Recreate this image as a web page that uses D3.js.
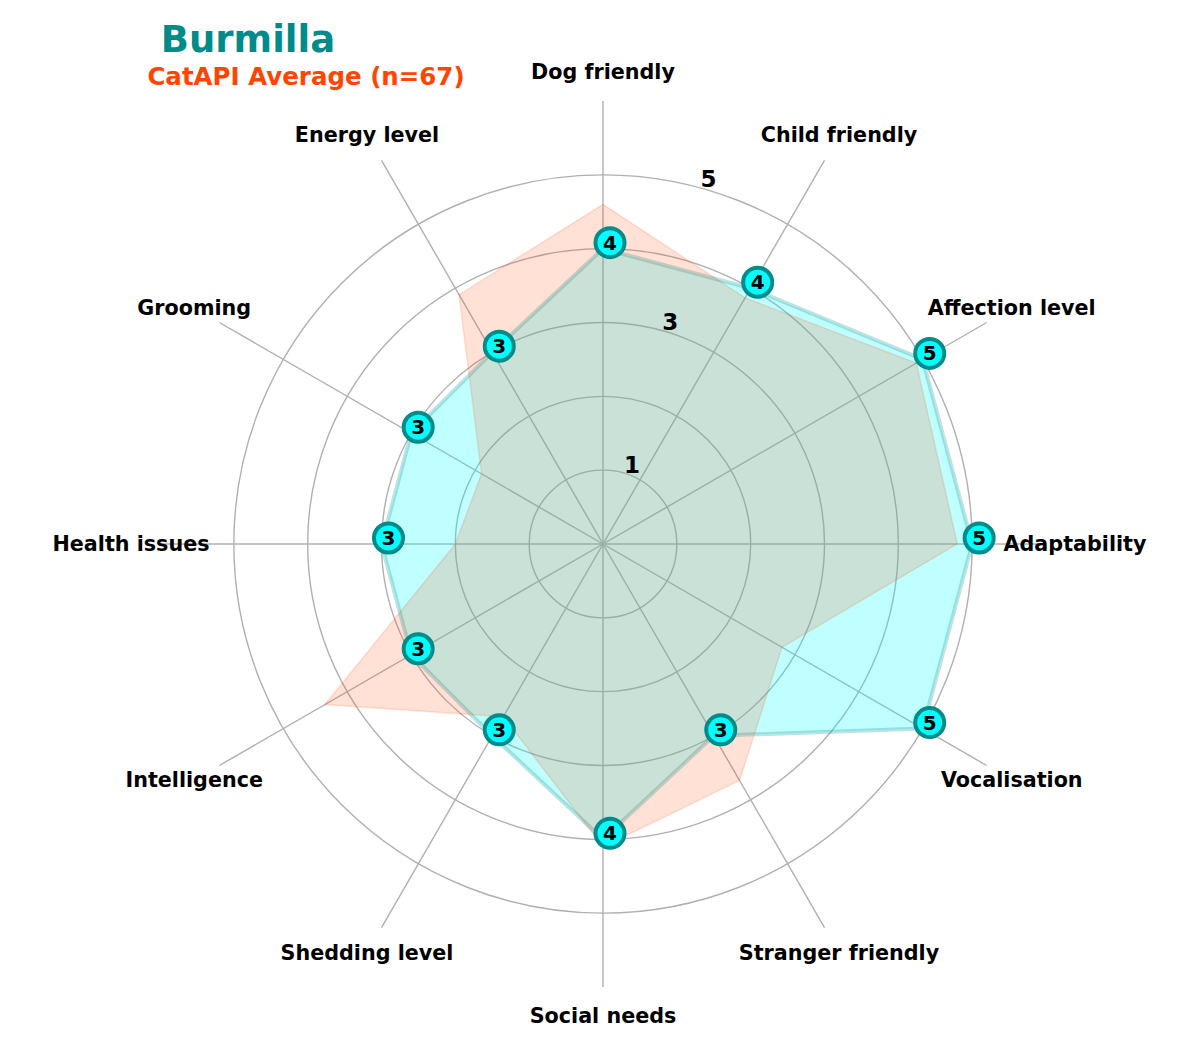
<!DOCTYPE html>
<html>
<head>
<meta charset="utf-8">
<script src="https://d3js.org/d3.v7.min.js"></script>
<style>
  body { margin: 0; background: #fff; }
  text { font-family: "DejaVu Sans", sans-serif; font-weight: bold; }
</style>
</head>
<body>
<div id="radar"></div>
<script>
// chart data
var traits = ["Adaptability", "Affection level", "Child friendly", "Dog friendly",
  "Energy level", "Grooming", "Health issues", "Intelligence",
  "Shedding level", "Social needs", "Stranger friendly", "Vocalisation"];
var breedValues = [5, 5, 4, 4, 3, 3, 3, 3, 3, 4, 3, 5];
var averageValues = [4.8, 4.9, 3.85, 4.6, 3.9, 1.9, 2.0, 4.35, 2.7, 4.1, 3.7, 2.8];
var gridLevels = [1, 2, 3, 4, 5];
var rTickLabels = [1, 3, 5];
var breedName = "Burmilla";
var averageName = "CatAPI Average (n=67)";

var svgWidth = 1200;
var svgHeight = 1050;
var cx = 603;
var cy = 544;

var svg = d3.select("#radar")
  .append("svg")
  .attr("width", svgWidth)
  .attr("height", svgHeight);

var chartGroup = svg.append("g")
  .attr("transform", `translate(${cx}, ${cy})`);

// radial scale: 0..6 with spokes reaching the max
var rScale = d3.scaleLinear()
  .domain([0, 6])
  .range([0, 443]);

// angle per trait, counterclockwise from the right
var angle = d3.scaleLinear()
  .domain([0, traits.length])
  .range([0, 2 * Math.PI]);

function px(i, v) { return rScale(v) * Math.cos(angle(i)); }
function py(i, v) { return -rScale(v) * Math.sin(angle(i)); }

// grid circles
chartGroup.selectAll(".grid")
  .data(gridLevels)
  .enter()
  .append("circle")
  .attr("r", d => rScale(d))
  .attr("fill", "none")
  .attr("stroke", "#b0b0b0")
  .attr("stroke-width", 1.4);

// spokes
chartGroup.selectAll(".spoke")
  .data(traits)
  .enter()
  .append("line")
  .attr("x1", 0)
  .attr("y1", 0)
  .attr("x2", (d, i) => px(i, 6))
  .attr("y2", (d, i) => py(i, 6))
  .attr("stroke", "#b0b0b0")
  .attr("stroke-width", 1.4);

var radarLine = d3.lineRadial()
  .angle((d, i) => Math.PI / 2 - angle(i))
  .radius(d => rScale(d))
  .curve(d3.curveLinearClosed);

// breed polygon
chartGroup.append("path")
  .datum(breedValues)
  .attr("d", radarLine)
  .attr("fill", "rgba(0,255,255,0.25)")
  .attr("stroke", "rgba(0,139,139,0.25)")
  .attr("stroke-width", 4)
  .attr("stroke-linejoin", "round");

// average polygon on top
chartGroup.append("path")
  .datum(averageValues)
  .attr("d", radarLine)
  .attr("fill", "rgba(255,69,0,0.16)")
  .attr("stroke", "rgba(255,69,0,0.15)")
  .attr("stroke-width", 1.5);

// radial tick labels
chartGroup.selectAll(".rlabel")
  .data(rTickLabels)
  .enter()
  .append("text")
  .attr("x", d => rScale(d) * Math.cos(75 * Math.PI / 180) + 10)
  .attr("y", d => -rScale(d) * Math.sin(75 * Math.PI / 180) - 8)
  .attr("text-anchor", "middle")
  .attr("dominant-baseline", "central")
  .attr("font-size", 23)
  .attr("fill", "#000")
  .text(d => d);

// trait labels
chartGroup.selectAll(".tlabel")
  .data(traits)
  .enter()
  .append("text")
  .attr("x", (d, i) => 472 * Math.cos(angle(i)))
  .attr("y", (d, i) => -472 * Math.sin(angle(i)))
  .attr("text-anchor", "middle")
  .attr("dominant-baseline", "central")
  .attr("font-size", 20.7)
  .attr("fill", "#000")
  .text(d => d);

// value markers (slightly offset like the original)
var markers = chartGroup.selectAll(".marker")
  .data(breedValues)
  .enter()
  .append("g")
  .attr("transform", (d, i) => `translate(${px(i, d) + 7}, ${py(i, d) - 6})`);

markers.append("circle")
  .attr("r", 14.5)
  .attr("fill", "#00ffff")
  .attr("stroke", "#008b8b")
  .attr("stroke-width", 4);

markers.append("text")
  .attr("text-anchor", "middle")
  .attr("dominant-baseline", "central")
  .attr("font-size", 20)
  .attr("fill", "#000")
  .text(d => d);

// titles
svg.append("text")
  .attr("x", 248)
  .attr("y", 52)
  .attr("text-anchor", "middle")
  .attr("font-size", 37)
  .attr("fill", "#008b8b")
  .text(breedName);

svg.append("text")
  .attr("x", 306)
  .attr("y", 85)
  .attr("text-anchor", "middle")
  .attr("font-size", 24.5)
  .attr("fill", "#ff4500")
  .text(averageName);
</script>
</body>
</html>
